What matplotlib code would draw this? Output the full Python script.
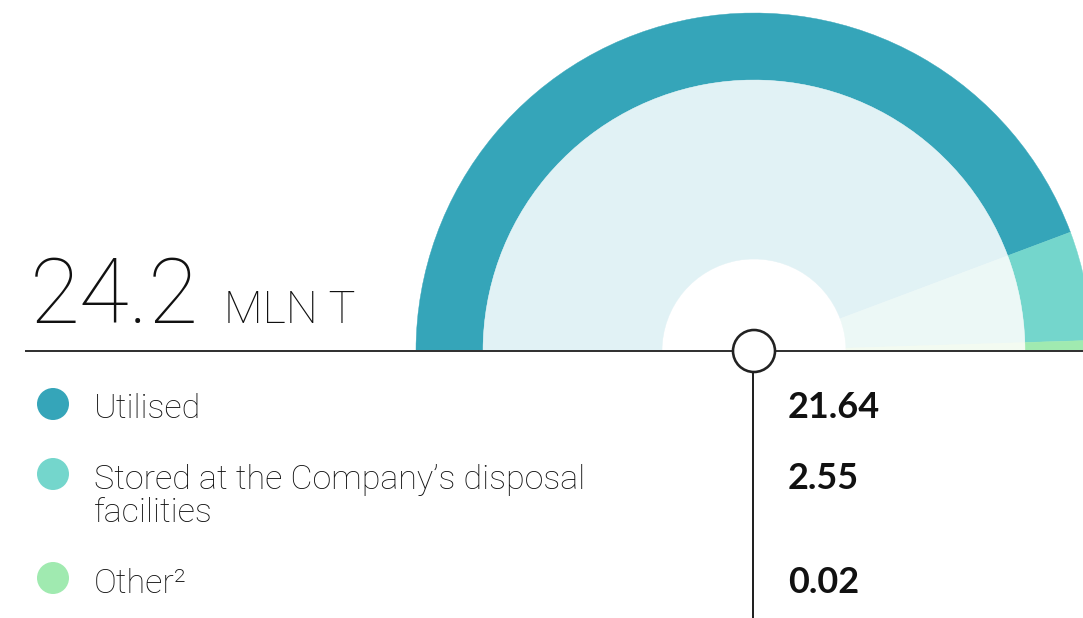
import matplotlib
matplotlib.use("Agg")
import matplotlib.pyplot as plt
from matplotlib.patches import Wedge, Circle
import numpy as np

W, H = 1083, 618

categories = ["Utilised", "Stored at the Company\u2019s disposal\nfacilities", "Other\u00b2"]
values = [21.64, 2.55, 0.02]
value_labels = ["21.64", "2.55", "0.02"]
total_label = "24.2"
unit_label = "MLN T"

RING = ["#35a5b9", "#74d6cc", "#a0eab0"]
FILL = ["#e1f2f5", "#ecf8f6", "#f3fbf1"]
INK = "#111111"

PX = 0.72  # points per pixel at dpi 100


def Y(py):
    return H - py


fig = plt.figure(figsize=(W / 100, H / 100), dpi=100)
ax = fig.add_axes([0, 0, 1, 1])
ax.set_xlim(0, W)
ax.set_ylim(0, H)
ax.set_aspect("equal")
ax.axis("off")

# half donut, tiny shares get a minimum visible angle
cx, cy = 754, Y(351)
r_out, r_mid, r_in = 338, 271, 92
ang = np.array(values) / sum(values) * 180.0
small = ang < 1.8
ang[small] = 1.8
ang[~small] *= (180.0 - ang[small].sum()) / ang[~small].sum()
start = 180.0
for a, rc, fc in zip(ang, RING, FILL):
    t1, t2 = start - a, start
    ax.add_patch(Wedge((cx, cy), r_out, t1, t2, width=r_out - r_mid,
                       facecolor=rc, edgecolor=rc, lw=0.3))
    ax.add_patch(Wedge((cx, cy), r_mid, t1, t2, width=r_mid - r_in,
                       facecolor=fc, edgecolor=fc, lw=0.3))
    start = t1

# base line, hub and stem
ax.plot([25, W], [Y(351), Y(351)], color="#333333", lw=2 * PX,
        solid_capstyle="butt", zorder=3)
ax.plot([753, 753], [Y(372), 0], color="#222222", lw=2 * PX, zorder=3)
ax.add_patch(Circle((cx, cy), 21, facecolor="white", edgecolor="#222222",
                    lw=2.6 * PX, zorder=4))

# headline total
ax.text(30, Y(323), total_label, fontsize=91 * PX, family="Roboto",
        weight="light", color=INK, va="baseline", ha="left")
ax.text(224, Y(323), unit_label, fontsize=45 * PX, family="Roboto",
        weight="light", color=INK, va="baseline", ha="left")

# legend rows
dot_y = [404, 474, 578]
base_y = [418, 489, 593]
for cat, val, col, dy, by in zip(categories, value_labels, RING, dot_y, base_y):
    ax.add_patch(Circle((53, Y(dy)), 16, facecolor=col, edgecolor="none"))
    for i, line in enumerate(cat.split("\n")):
        ax.text(94, Y(by + 33 * i), line, fontsize=34 * PX, family="Roboto",
                weight="light", color=INK, va="baseline", ha="left")
    ax.text(788, Y(by), val, fontsize=36 * PX, family="Lato", weight="bold",
            color=INK, va="baseline", ha="left")

fig.savefig("out.png", dpi=100)
